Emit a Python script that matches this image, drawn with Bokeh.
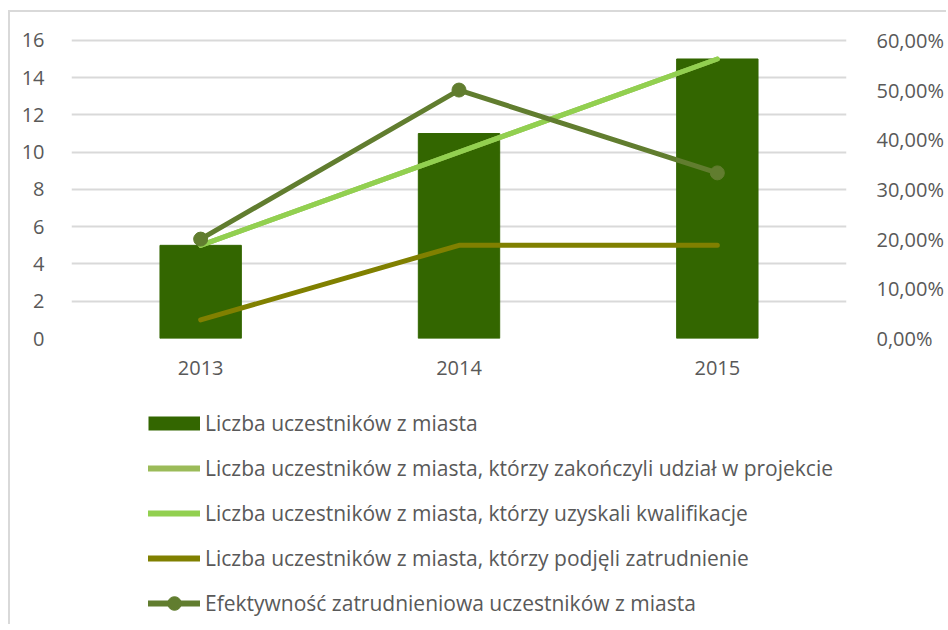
from bokeh.plotting import figure
from bokeh.layouts import column
from bokeh.models import (FactorRange, Range1d, LinearAxis, FixedTicker, CustomJSTickFormatter,
                          Legend, LegendItem)
from bokeh.embed import file_html
from bokeh.resources import INLINE

# ---- data ----
years = ["2013", "2014", "2015"]
uczestnicy = [5, 11, 15]
zakonczyli = [5, 10, 15]
kwalifikacje = [5, 10, 15]
zatrudnienie = [1, 5, 5]
efektywnosc = [0.20, 0.50, 0.3333]

left_ticks = [0, 2, 4, 6, 8, 10, 12, 14, 16]
right_ticks = [0.0, 0.1, 0.2, 0.3, 0.4, 0.5, 0.6]

labels = [
    "Liczba uczestników z miasta",
    "Liczba uczestników z miasta, którzy zakończyli udział w projekcie",
    "Liczba uczestników z miasta, którzy uzyskali kwalifikacje",
    "Liczba uczestników z miasta, którzy podjęli zatrudnienie",
    "Efektywność zatrudnieniowa uczestników z miasta",
]

colors = ["#336600", "#9BBB59", "#92D050", "#808000", "#617D2F"]

FONT = "Open Sans"
TXT = "#595959"
GRID = "#d9d9d9"
FS = "20px"

p = figure(x_range=FactorRange(*years), y_range=Range1d(0, 16.1),
           width=936, height=386,
           min_border_left=61, min_border_right=97, min_border_top=26, min_border_bottom=60,
           output_backend="svg", toolbar_location=None,
           background_fill_color="white", border_fill_color="white")
p.outline_line_color = None

p.extra_y_ranges = {"pct": Range1d(0, 0.6 * 16.1 / 16)}

p.yaxis.ticker = FixedTicker(ticks=left_ticks)
for ax in [p.xaxis[0], p.yaxis[0]]:
    ax.axis_line_color = None
    ax.major_tick_line_color = None
    ax.minor_tick_line_color = None
    ax.major_label_text_font = FONT
    ax.major_label_text_font_size = FS
    ax.major_label_text_color = TXT
p.yaxis.major_label_standoff = 21
p.xaxis.major_label_standoff = 16

ax2 = LinearAxis(y_range_name="pct", ticker=FixedTicker(ticks=right_ticks),
                 formatter=CustomJSTickFormatter(code="return (tick*100).toFixed(2).replace('.', ',') + '%';"))
ax2.axis_line_color = None
ax2.major_tick_line_color = None
ax2.minor_tick_line_color = None
ax2.major_label_text_font = FONT
ax2.major_label_text_font_size = FS
ax2.major_label_text_color = TXT
ax2.major_label_standoff = 24
p.add_layout(ax2, "right")

p.xgrid.grid_line_color = None
p.ygrid.grid_line_color = GRID
p.ygrid.grid_line_width = 2

# glyphs
p.vbar(x=years, top=uczestnicy, width=0.315, color=colors[0])
p.line(x=years, y=zakonczyli, line_color=colors[1], line_width=5, line_cap="round", line_join="round")
p.line(x=years, y=kwalifikacje, line_color=colors[2], line_width=5, line_cap="round", line_join="round")
p.line(x=years, y=zatrudnienie, line_color=colors[3], line_width=5, line_cap="round", line_join="round")
p.line(x=years, y=efektywnosc, y_range_name="pct", line_color=colors[4], line_width=5,
       line_cap="round", line_join="round")
p.scatter(x=years, y=efektywnosc, y_range_name="pct", size=14, fill_color=colors[4], line_color=colors[4])

# ---- legend figure below (its frame is aligned with the chart frame) ----
p2 = figure(width=936, height=226, x_range=Range1d(0, 1), y_range=Range1d(0, 1),
            x_axis_type=None, y_axis_type=None, min_border=0,
            output_backend="svg", toolbar_location=None,
            background_fill_color="white", border_fill_color="white")
p2.outline_line_color = None
p2.grid.grid_line_color = None

# invisible proxy renderers (one point outside the visible range) used only for legend glyphs
hx, hy = [5], [5]
l0 = p2.line(x=hx, y=hy, line_color=colors[0], line_width=14, line_cap="butt")
l1 = p2.line(x=hx, y=hy, line_color=colors[1], line_width=6, line_cap="round")
l2 = p2.line(x=hx, y=hy, line_color=colors[2], line_width=6, line_cap="round")
l3 = p2.line(x=hx, y=hy, line_color=colors[3], line_width=6, line_cap="round")
l4 = p2.line(x=hx, y=hy, line_color=colors[4], line_width=6, line_cap="round")
m4 = p2.scatter(x=hx, y=hy, size=14, fill_color=colors[4], line_color=colors[4])

legend = Legend(items=[
    LegendItem(label=labels[0], renderers=[l0]),
    LegendItem(label=labels[1], renderers=[l1]),
    LegendItem(label=labels[2], renderers=[l2]),
    LegendItem(label=labels[3], renderers=[l3]),
    LegendItem(label=labels[4], renderers=[l4, m4]),
])
legend.location = (77, 4)
legend.orientation = "vertical"
legend.border_line_color = None
legend.background_fill_alpha = 0
legend.margin = 0
legend.padding = 0
legend.glyph_width = 52
legend.glyph_height = 34
legend.label_height = 34
legend.label_standoff = 5
legend.spacing = 11
legend.label_text_font = FONT
legend.label_text_font_size = "21px"
legend.label_text_color = TXT
p2.add_layout(legend, "center")

layout = column(p, p2, spacing=0)
layout.styles = {"margin-left": "8px", "margin-top": "10px",
                 "border-left": "2px solid #d9d9d9", "border-top": "2px solid #d9d9d9"}

open("out.html", "w").write(file_html(layout, INLINE))
